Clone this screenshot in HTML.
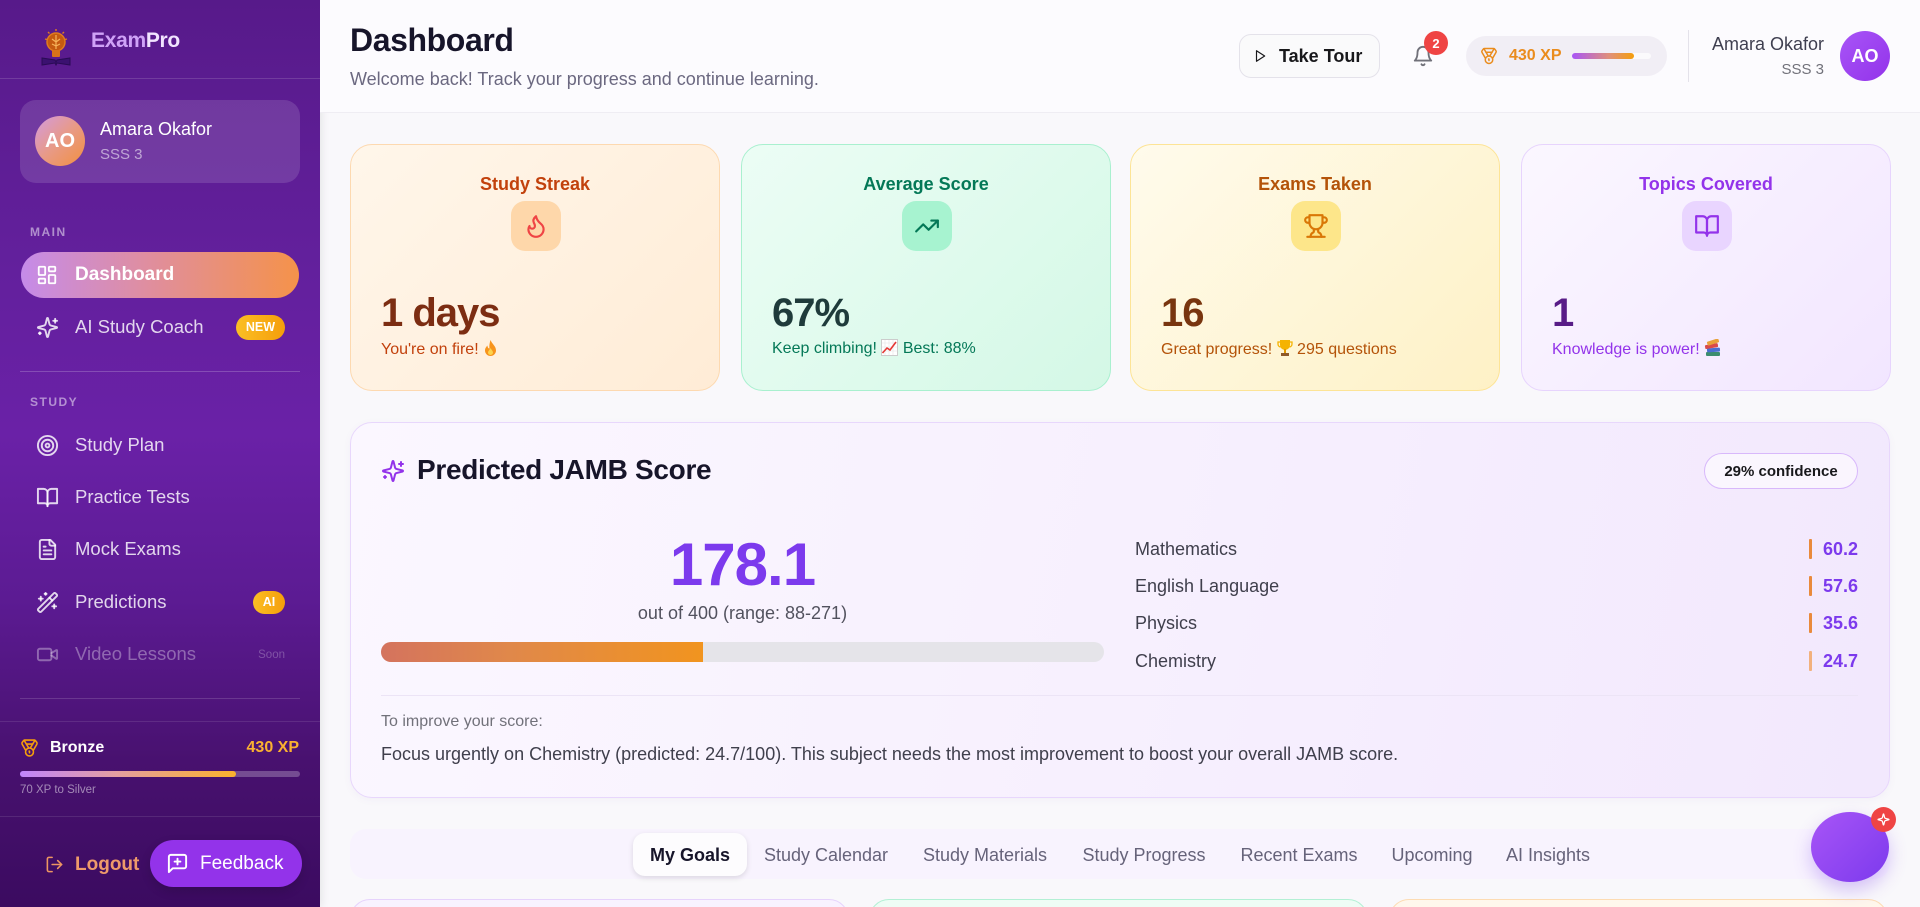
<!DOCTYPE html>
<html><head><meta charset="utf-8"><style>
*{box-sizing:border-box;margin:0;padding:0}
html,body{width:1920px;height:907px;overflow:hidden}
body{font-family:"Liberation Sans",Arial,sans-serif;background:#f9f8fb}
#root{position:relative;width:1920px;height:907px;overflow:hidden;background:#f9f8fb}
.a{position:absolute}
.t{position:absolute;line-height:1;white-space:nowrap}
svg.i{position:absolute;fill:none;stroke:currentColor;stroke-width:2;stroke-linecap:round;stroke-linejoin:round}
.nav{color:rgba(255,255,255,.82);font-size:18.5px;left:75px}
.card{position:absolute;top:144px;width:370px;height:247px;border-radius:22px;border:1.5px solid}
.ctitle{position:absolute;left:0;width:100%;top:30px;text-align:center;font-weight:bold;font-size:18px;line-height:1}
.cicon{position:absolute;left:160px;top:56px;width:50px;height:50px;border-radius:14px}
.cval{position:absolute;left:30px;top:148px;font-weight:bold;font-size:40px;letter-spacing:-1px;line-height:1}
.csub{position:absolute;left:30px;top:194px;font-size:16px;line-height:1;white-space:nowrap}
.subj{position:absolute;left:1135px;font-size:18px;color:#3f3f4c;line-height:1}
.sval{position:absolute;right:62px;font-size:18px;font-weight:bold;color:#7c3aed;line-height:1}
.mark{position:absolute;left:1809px;width:3px;height:20px;background:#e98a3c;border-radius:1px}
.tab{position:absolute;top:846px;width:200px;text-align:center;font-size:18px;color:#66637a;line-height:1}
</style></head><body><div id="root">

<!-- SIDEBAR -->
<div class="a" style="left:0;top:0;width:320px;height:907px;background:linear-gradient(180deg,#571a8a 0%,#63209d 30%,#6a21a7 48%,#5c1b93 66%,#48116f 84%,#3b0b60 100%);box-shadow:2px 0 8px rgba(0,0,0,.08)"></div>
<div class="a" style="left:0;top:78px;width:320px;height:1px;background:rgba(255,255,255,.14)"></div>

<!-- logo -->
<svg class="a" style="left:40px;top:27px" width="32" height="40" viewBox="0 0 32 40">
 <path d="M2 31 L2 38 L15 36 L16 38 L17 36 L30 38 L30 31 L17 33 L16 35 L15 33 Z" fill="#3b1170" stroke="#2a0b55" stroke-width="1"/>
 <circle cx="16" cy="15" r="9" fill="#c55a11" stroke="#e07b1f" stroke-width="1.5"/>
 <rect x="12" y="23" width="8" height="7" rx="1" fill="#d9731a"/>
 <path d="M16 8 L16 22 M12 12 L16 15 L20 12 M12 17 L16 19 L20 17" stroke="#f7b35a" stroke-width="1.2" fill="none"/>
 <path d="M16 2 L16 4 M8 5 L9.5 6.5 M24 5 L22.5 6.5 M5 12 L7 12.5 M27 12 L25 12.5" stroke="#e07b1f" stroke-width="1.4"/>
</svg>
<div class="t" style="left:91px;top:30px;font-size:21px;font-weight:bold;letter-spacing:-.3px"><span style="color:#cfa2f7">Exam</span><span style="color:#f1e4ff">Pro</span></div>

<!-- user card -->
<div class="a" style="left:20px;top:100px;width:280px;height:83px;border-radius:16px;background:rgba(255,255,255,.13)"></div>
<div class="a" style="left:35px;top:116px;width:50px;height:50px;border-radius:50%;background:linear-gradient(135deg,#d39be0 0%,#e89a86 50%,#f2903f 100%)"></div>
<div class="t" style="left:35px;top:131px;width:50px;text-align:center;color:#fff;font-weight:bold;font-size:20px">AO</div>
<div class="t" style="left:100px;top:120px;color:#fff;font-size:18px">Amara Okafor</div>
<div class="t" style="left:100px;top:147px;color:rgba(255,255,255,.55);font-size:15px">SSS 3</div>

<div class="t" style="left:30px;top:226px;color:rgba(255,255,255,.5);font-size:12px;font-weight:bold;letter-spacing:1.5px">MAIN</div>

<!-- dashboard active -->
<div class="a" style="left:21px;top:252px;width:278px;height:46px;border-radius:23px;background:linear-gradient(90deg,#c58be9 0%,#df8ea0 45%,#f5924a 100%)"></div>
<svg class="i" style="left:36px;top:264px;color:#fff" width="22" height="22" viewBox="0 0 24 24"><rect width="7" height="9" x="3" y="3" rx="1"/><rect width="7" height="5" x="14" y="3" rx="1"/><rect width="7" height="9" x="14" y="12" rx="1"/><rect width="7" height="5" x="3" y="16" rx="1"/></svg>
<div class="t" style="left:75px;top:265px;color:#fff;font-size:19px;font-weight:bold">Dashboard</div>

<svg class="i" style="left:36px;top:316px;color:rgba(255,255,255,.82)" width="23" height="23" viewBox="0 0 24 24"><path d="M9.937 15.5A2 2 0 0 0 8.5 14.063l-6.135-1.582a.5.5 0 0 1 0-.962L8.5 9.936A2 2 0 0 0 9.937 8.5l1.582-6.135a.5.5 0 0 1 .963 0L14.063 8.5A2 2 0 0 0 15.5 9.937l6.135 1.581a.5.5 0 0 1 0 .964L15.5 14.063a2 2 0 0 0-1.437 1.437l-1.582 6.135a.5.5 0 0 1-.963 0z"/><path d="M20 3v4"/><path d="M22 5h-4"/><path d="M4 17v2"/><path d="M5 18H3"/></svg>
<div class="t nav" style="top:318px">AI Study Coach</div>
<div class="a" style="left:236px;top:315px;width:49px;height:25px;border-radius:13px;background:linear-gradient(90deg,#fbbf24,#f59e0b)"></div>
<div class="t" style="left:236px;top:321px;width:49px;text-align:center;color:#fff;font-weight:bold;font-size:12.5px">NEW</div>

<div class="a" style="left:20px;top:371px;width:280px;height:1px;background:rgba(255,255,255,.2)"></div>
<div class="t" style="left:30px;top:396px;color:rgba(255,255,255,.5);font-size:12px;font-weight:bold;letter-spacing:1.5px">STUDY</div>

<svg class="i" style="left:36px;top:434px;color:rgba(255,255,255,.82)" width="23" height="23" viewBox="0 0 24 24"><circle cx="12" cy="12" r="10"/><circle cx="12" cy="12" r="6"/><circle cx="12" cy="12" r="2"/></svg>
<div class="t nav" style="top:436px">Study Plan</div>

<svg class="i" style="left:36px;top:486px;color:rgba(255,255,255,.82)" width="23" height="23" viewBox="0 0 24 24"><path d="M2 3h6a4 4 0 0 1 4 4v14a3 3 0 0 0-3-3H2z"/><path d="M22 3h-6a4 4 0 0 0-4 4v14a3 3 0 0 1 3-3h7z"/></svg>
<div class="t nav" style="top:488px">Practice Tests</div>

<svg class="i" style="left:36px;top:538px;color:rgba(255,255,255,.82)" width="23" height="23" viewBox="0 0 24 24"><path d="M15 2H6a2 2 0 0 0-2 2v16a2 2 0 0 0 2 2h12a2 2 0 0 0 2-2V7Z"/><path d="M14 2v4a2 2 0 0 0 2 2h4"/><path d="M10 9H8"/><path d="M16 13H8"/><path d="M16 17H8"/></svg>
<div class="t nav" style="top:540px">Mock Exams</div>

<svg class="i" style="left:36px;top:591px;color:rgba(255,255,255,.82)" width="23" height="23" viewBox="0 0 24 24"><path d="m21.64 3.64-1.28-1.28a1.21 1.21 0 0 0-1.72 0L2.36 18.64a1.21 1.21 0 0 0 0 1.72l1.28 1.28a1.2 1.2 0 0 0 1.72 0L21.64 5.360a1.2 1.2 0 0 0 0-1.72"/><path d="m14 7 3 3"/><path d="M5 6v4"/><path d="M19 14v4"/><path d="M10 2v2"/><path d="M7 8H3"/><path d="M21 16h-4"/><path d="M11 3H9"/></svg>
<div class="t nav" style="top:593px">Predictions</div>
<div class="a" style="left:253px;top:591px;width:32px;height:23px;border-radius:12px;background:linear-gradient(90deg,#fbbf24,#f59e0b)"></div>
<div class="t" style="left:253px;top:596px;width:32px;text-align:center;color:#fff;font-weight:bold;font-size:12.5px">AI</div>

<svg class="i" style="left:36px;top:643px;color:rgba(255,255,255,.35)" width="23" height="23" viewBox="0 0 24 24"><path d="m16 13 5.223 3.482a.5.5 0 0 0 .777-.416V7.87a.5.5 0 0 0-.752-.432L16 10.5"/><rect x="2" y="6" width="14" height="12" rx="2"/></svg>
<div class="t nav" style="top:645px;color:rgba(255,255,255,.35)">Video Lessons</div>
<div class="t" style="left:235px;top:650px;width:50px;text-align:right;color:rgba(255,255,255,.25);font-size:11.5px">Soon</div>

<div class="a" style="left:20px;top:698px;width:280px;height:1px;background:rgba(255,255,255,.15)"></div>
<div class="a" style="left:0;top:721px;width:320px;height:1px;background:rgba(255,255,255,.1)"></div>

<svg class="i" style="left:20px;top:738px;color:#f59e0b" width="19" height="20" viewBox="0 0 24 24"><path d="M7.21 15 2.66 7.14a2 2 0 0 1 .13-2.2L4.4 2.8A2 2 0 0 1 6 2h12a2 2 0 0 1 1.6.8l1.6 2.140a2 2 0 0 1 .14 2.2L16.79 15"/><path d="M11 12 5.12 2.2"/><path d="m13 12 5.88-9.8"/><path d="M8 7h8"/><circle cx="12" cy="17" r="5"/><path d="M12 18v-2h-.5"/></svg>
<div class="t" style="left:50px;top:740px;color:#fff;font-weight:bold;font-size:16px">Bronze</div>
<div class="t" style="left:200px;top:740px;width:99px;text-align:right;color:#fbb130;font-weight:bold;font-size:16px">430 XP</div>
<div class="a" style="left:20px;top:771px;width:280px;height:6px;border-radius:3px;background:rgba(255,255,255,.25)"></div>
<div class="a" style="left:20px;top:771px;width:216px;height:6px;border-radius:3px;background:linear-gradient(90deg,#c084fc,#e59ea0 45%,#fbb12c)"></div>
<div class="t" style="left:20px;top:785px;color:rgba(255,255,255,.5);font-size:11.5px">70 XP to Silver</div>

<div class="a" style="left:0;top:816px;width:320px;height:1px;background:rgba(255,255,255,.1)"></div>

<svg class="i" style="left:45px;top:855px;color:#ee9662" width="19" height="19" viewBox="0 0 24 24"><path d="M9 21H5a2 2 0 0 1-2-2V5a2 2 0 0 1 2-2h4"/><polyline points="16 17 21 12 16 7"/><line x1="21" x2="9" y1="12" y2="12"/></svg>
<div class="t" style="left:75px;top:855px;color:#ee9a6a;font-weight:bold;font-size:19px">Logout</div>
<div class="a" style="left:150px;top:840px;width:152px;height:47px;border-radius:24px;background:#9333ea;box-shadow:0 4px 10px rgba(0,0,0,.15)"></div>
<svg class="i" style="left:166px;top:852px;color:#fff" width="23" height="23" viewBox="0 0 24 24"><path d="M21 15a2 2 0 0 1-2 2H7l-4 4V5a2 2 0 0 1 2-2h14a2 2 0 0 1 2 2z"/><path d="M12 7v6"/><path d="M9 10h6"/></svg>
<div class="t" style="left:200px;top:854px;color:#fff;font-size:19px">Feedback</div>

<!-- HEADER -->
<div class="a" style="left:320px;top:0;width:1600px;height:113px;background:#fcfbfe;border-bottom:1px solid #efedf3"></div>
<div class="t" style="left:350px;top:24px;font-size:32px;font-weight:bold;color:#17152a;letter-spacing:-.4px">Dashboard</div>
<div class="t" style="left:350px;top:70px;font-size:18px;color:#6b6880">Welcome back! Track your progress and continue learning.</div>

<div class="a" style="left:1239px;top:34px;width:141px;height:44px;border-radius:12px;border:1px solid #e4e2ea;background:#fafafb"></div>
<svg class="i" style="left:1253px;top:49px;color:#18181b" width="14" height="14" viewBox="0 0 24 24"><polygon points="6 3 20 12 6 21 6 3"/></svg>
<div class="t" style="left:1279px;top:47px;font-size:18px;font-weight:bold;color:#18181b">Take Tour</div>

<svg class="i" style="left:1412px;top:45px;color:#71717a" width="22" height="22" viewBox="0 0 24 24"><path d="M6 8a6 6 0 0 1 12 0c0 7 3 9 3 9H3s3-2 3-9"/><path d="M10.3 21a1.94 1.94 0 0 0 3.4 0"/></svg>
<div class="a" style="left:1424px;top:31px;width:24px;height:24px;border-radius:50%;background:#ef4444"></div>
<div class="t" style="left:1424px;top:37px;width:24px;text-align:center;color:#fff;font-weight:bold;font-size:13px">2</div>

<div class="a" style="left:1466px;top:36px;width:201px;height:40px;border-radius:20px;background:#f1eef5"></div>
<svg class="i" style="left:1480px;top:47px;color:#ea8c1d" width="18" height="18" viewBox="0 0 24 24"><path d="M7.21 15 2.66 7.14a2 2 0 0 1 .13-2.2L4.4 2.8A2 2 0 0 1 6 2h12a2 2 0 0 1 1.6.8l1.6 2.14a2 2 0 0 1 .14 2.2L16.79 15"/><path d="M11 12 5.12 2.2"/><path d="m13 12 5.88-9.8"/><path d="M8 7h8"/><circle cx="12" cy="17" r="5"/><path d="M12 18v-2h-.5"/></svg>
<div class="t" style="left:1509px;top:48px;font-size:16px;font-weight:bold;color:#ea8c1d">430 XP</div>
<div class="a" style="left:1572px;top:53px;width:79px;height:6px;border-radius:3px;background:#fbfafc"></div>
<div class="a" style="left:1572px;top:53px;width:62px;height:6px;border-radius:3px;background:linear-gradient(90deg,#a855f7,#e0907a 60%,#f59e0b)"></div>

<div class="a" style="left:1688px;top:30px;width:1px;height:52px;background:#e4e2ea"></div>
<div class="t" style="left:1624px;top:35px;width:200px;text-align:right;font-size:18px;color:#3f3f50">Amara Okafor</div>
<div class="t" style="left:1624px;top:62px;width:200px;text-align:right;font-size:15px;color:#71717a">SSS 3</div>
<div class="a" style="left:1840px;top:31px;width:50px;height:50px;border-radius:50%;background:linear-gradient(135deg,#a855f7,#9333ea)"></div>
<div class="t" style="left:1840px;top:47px;width:50px;text-align:center;color:#fff;font-weight:bold;font-size:18px">AO</div>

<!-- STAT CARDS -->
<div class="card" style="left:350px;background:linear-gradient(135deg,#fff6ea,#ffecd6);border-color:#fdd9b0">
 <div class="ctitle" style="color:#c2410c">Study Streak</div>
 <div class="cicon" style="background:#fed7aa"><svg class="i" style="left:12px;top:12px;color:#ef4444" width="26" height="26" viewBox="0 0 24 24"><path d="M8.5 14.5A2.5 2.5 0 0 0 11 12c0-1.38-.5-2-1-3-1.072-2.143-.224-4.054 2-6 .5 2.5 2 4.9 4 6.5 2 1.6 3 3.5 3 5.5a7 7 0 1 1-14 0c0-1.153.433-2.294 1-3a2.5 2.5 0 0 0 2.5 2.5z"/></svg></div>
 <div class="cval" style="color:#7c2d12">1 days</div>
 <div class="csub" style="color:#c2410c">You're on fire! <svg width="15" height="18" viewBox="0 0 15 18" style="vertical-align:-3px"><path d="M7.5 1C9 5 13 7 13 11.5A5.5 5.5 0 0 1 2 11.5C2 9 3.5 7.5 4.5 6.5 4.5 8.5 5.5 9.5 6.5 9.5 6 6 7 3 7.5 1Z" fill="#f7941d"/><path d="M7.5 9C8.5 11 10 12 10 13.5a2.5 2.5 0 0 1-5 0C5 12 6.5 11 7.5 9Z" fill="#fcd34d"/></svg></div>
</div>

<div class="card" style="left:741px;background:linear-gradient(135deg,#ecfdf5,#d4f8e6);border-color:#a9f0cf">
 <div class="ctitle" style="color:#047857">Average Score</div>
 <div class="cicon" style="background:#a7f3d0"><svg class="i" style="left:12px;top:12px;color:#047857" width="26" height="26" viewBox="0 0 24 24"><polyline points="22 7 13.5 15.5 8.5 10.5 2 17"/><polyline points="16 7 22 7 22 13"/></svg></div>
 <div class="cval" style="color:#1f3b3b">67%</div>
 <div class="csub" style="color:#047857">Keep climbing! <svg width="17" height="17" viewBox="0 0 17 17" style="vertical-align:-3px"><rect x="0.5" y="0.5" width="16" height="16" fill="#fff" stroke="#ccc"/><path d="M1 4H16M1 8H16M1 12H16M4 1V16M8 1V16M12 1V16" stroke="#e4e4e4" stroke-width=".6"/><polyline points="1.5,14 6,9 9,11 15,3" fill="none" stroke="#e53935" stroke-width="1.6"/></svg> Best: 88%</div>
</div>

<div class="card" style="left:1130px;background:linear-gradient(135deg,#fffbec,#fef1c6);border-color:#fde496">
 <div class="ctitle" style="color:#b45309">Exams Taken</div>
 <div class="cicon" style="background:#fde68a"><svg class="i" style="left:12px;top:12px;color:#d97706" width="26" height="26" viewBox="0 0 24 24"><path d="M6 9H4.5a2.5 2.5 0 0 1 0-5H6"/><path d="M18 9h1.5a2.5 2.5 0 0 0 0-5H18"/><path d="M4 22h16"/><path d="M10 14.66V17c0 .55-.47.98-.97 1.21C7.85 18.75 7 20.24 7 22"/><path d="M14 14.66V17c0 .55.47.98.97 1.21C16.15 18.75 17 20.24 17 22"/><path d="M18 2H6v7a6 6 0 0 0 12 0V2Z"/></svg></div>
 <div class="cval" style="color:#78350f">16</div>
 <div class="csub" style="color:#b45309">Great progress! <svg width="16" height="18" viewBox="0 0 16 18" style="vertical-align:-3px"><path d="M3 1H13V6A5 5 0 0 1 3 6Z" fill="#f5b301"/><path d="M3 3H1V5A3 3 0 0 0 3.5 8M13 3H15V5A3 3 0 0 1 12.5 8" fill="none" stroke="#f5b301" stroke-width="1.3"/><rect x="7" y="10" width="2" height="4" fill="#e29a00"/><rect x="4" y="14" width="8" height="3" fill="#8d5a2b"/></svg> 295 questions</div>
</div>

<div class="card" style="left:1521px;background:linear-gradient(135deg,#fbf7ff,#f2e6ff);border-color:#e7d4fd">
 <div class="ctitle" style="color:#9333ea">Topics Covered</div>
 <div class="cicon" style="background:#e9d5ff"><svg class="i" style="left:12px;top:12px;color:#9333ea" width="26" height="26" viewBox="0 0 24 24"><path d="M2 3h6a4 4 0 0 1 4 4v14a3 3 0 0 0-3-3H2z"/><path d="M22 3h-6a4 4 0 0 0-4 4v14a3 3 0 0 1 3-3h7z"/></svg></div>
 <div class="cval" style="color:#581c87">1</div>
 <div class="csub" style="color:#9333ea">Knowledge is power! <svg width="18" height="18" viewBox="0 0 18 18" style="vertical-align:-3px"><rect x="2" y="13" width="14" height="4" rx="1" fill="#3c8d6e"/><rect x="3" y="9" width="13" height="4" rx="1" fill="#4a6fd1" transform="rotate(-4 9 11)"/><rect x="1" y="5" width="13" height="4" rx="1" fill="#d94a4a" transform="rotate(-10 8 7)"/><rect x="3" y="1" width="12" height="4" rx="1" fill="#e8a13a" transform="rotate(-18 9 3)"/></svg></div>
</div>

<!-- PREDICTED SECTION -->
<div class="a" style="left:350px;top:422px;width:1540px;height:376px;border-radius:22px;background:linear-gradient(100deg,#fbf7ff 0%,#f7f0fe 50%,#f2e8fd 100%);border:1.5px solid #e8d7fc;box-shadow:0 2px 8px rgba(120,80,180,.05)"></div>
<svg class="i" style="left:381px;top:459px;color:#9333ea" width="24" height="24" viewBox="0 0 24 24"><path d="M9.937 15.5A2 2 0 0 0 8.5 14.063l-6.135-1.582a.5.5 0 0 1 0-.962L8.5 9.936A2 2 0 0 0 9.937 8.5l1.582-6.135a.5.5 0 0 1 .963 0L14.063 8.5A2 2 0 0 0 15.5 9.937l6.135 1.581a.5.5 0 0 1 0 .964L15.5 14.063a2 2 0 0 0-1.437 1.437l-1.582 6.135a.5.5 0 0 1-.963 0z"/><path d="M20 3v4"/><path d="M22 5h-4"/><path d="M4 17v2"/><path d="M5 18H3"/></svg>
<div class="t" style="left:417px;top:456px;font-size:28px;font-weight:bold;color:#17152a;letter-spacing:-.3px">Predicted JAMB Score</div>
<div class="a" style="left:1704px;top:453px;width:154px;height:36px;border-radius:18px;border:1.5px solid #d8b8fb;background:rgba(255,255,255,.55)"></div>
<div class="t" style="left:1704px;top:464px;width:154px;text-align:center;font-size:15px;font-weight:bold;color:#18181b">29% confidence</div>

<div class="t" style="left:381px;top:535px;width:723px;text-align:center;font-size:60px;font-weight:bold;color:#7c3aed;letter-spacing:-1px">178.1</div>
<div class="t" style="left:381px;top:604px;width:723px;text-align:center;font-size:18px;color:#52525e">out of 400 (range: 88-271)</div>
<div class="a" style="left:381px;top:642px;width:723px;height:20px;border-radius:10px;background:#e5e4e9"></div>
<div class="a" style="left:381px;top:642px;width:322px;height:20px;border-radius:10px 0 0 10px;background:linear-gradient(90deg,#d4735e,#e0884a 40%,#f1941f)"></div>

<div class="subj" style="top:540px">Mathematics</div>
<div class="subj" style="top:577px">English Language</div>
<div class="subj" style="top:614px">Physics</div>
<div class="subj" style="top:652px">Chemistry</div>
<div class="mark" style="top:539px"></div>
<div class="mark" style="top:576px"></div>
<div class="mark" style="top:613px"></div>
<div class="mark" style="top:651px;background:#f2b17d"></div>
<div class="sval" style="top:540px">60.2</div>
<div class="sval" style="top:577px">57.6</div>
<div class="sval" style="top:614px">35.6</div>
<div class="sval" style="top:652px">24.7</div>

<div class="a" style="left:381px;top:695px;width:1477px;height:1px;background:#ece4f6"></div>
<div class="t" style="left:381px;top:714px;font-size:16px;color:#71717a">To improve your score:</div>
<div class="t" style="left:381px;top:745px;font-size:18px;color:#3f3f4c">Focus urgently on Chemistry (predicted: 24.7/100). This subject needs the most improvement to boost your overall JAMB score.</div>

<!-- TABS -->
<div class="a" style="left:350px;top:829px;width:1540px;height:50px;border-radius:16px;background:#f8f3fe"></div>
<div class="a" style="left:633px;top:833px;width:114px;height:43px;border-radius:12px;background:#fdfcfe;box-shadow:0 2px 6px rgba(0,0,0,.12)"></div>
<div class="tab" style="left:590px;color:#17152a;font-weight:bold">My Goals</div>
<div class="tab" style="left:726px">Study Calendar</div>
<div class="tab" style="left:885px">Study Materials</div>
<div class="tab" style="left:1044px">Study Progress</div>
<div class="tab" style="left:1199px">Recent Exams</div>
<div class="tab" style="left:1332px">Upcoming</div>
<div class="tab" style="left:1448px">AI Insights</div>

<!-- bottom cards -->
<div class="a" style="left:350px;top:899px;width:499px;height:40px;border-radius:20px;border:1.5px solid #e6d3fc;background:#f8f2ff"></div>
<div class="a" style="left:869px;top:899px;width:499px;height:40px;border-radius:20px;border:1.5px solid #b3f0d4;background:#eefcf5"></div>
<div class="a" style="left:1389px;top:899px;width:499px;height:40px;border-radius:20px;border:1.5px solid #fddcb3;background:#fff7ec"></div>

<!-- floating button -->
<div class="a" style="left:1811px;top:812px;width:78px;height:70px;border-radius:50%;background:linear-gradient(135deg,#a855f7,#7c3aed);box-shadow:0 8px 18px rgba(124,58,237,.3)"></div>
<div class="a" style="left:1871px;top:807px;width:25px;height:25px;border-radius:50%;background:#ef4444"></div>
<svg class="i" style="left:1877px;top:813px;color:#fff;stroke-width:2.4" width="13" height="13" viewBox="0 0 24 24"><path d="M9.937 15.5A2 2 0 0 0 8.5 14.063l-6.135-1.582a.5.5 0 0 1 0-.962L8.5 9.936A2 2 0 0 0 9.937 8.5l1.582-6.135a.5.5 0 0 1 .963 0L14.063 8.5A2 2 0 0 0 15.5 9.937l6.135 1.581a.5.5 0 0 1 0 .964L15.5 14.063a2 2 0 0 0-1.437 1.437l-1.582 6.135a.5.5 0 0 1-.963 0z"/></svg>

</div></body></html>
